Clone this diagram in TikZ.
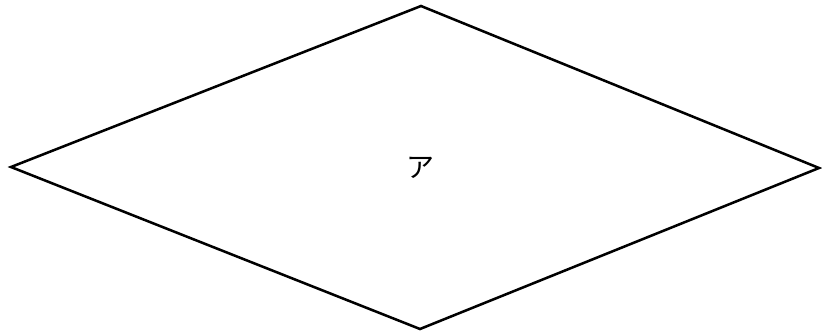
\documentclass[tikz,border=0pt]{standalone}
\usepackage{fontspec}
\newfontfamily\cjk{Noto Sans CJK JP}
\tikzset{
  outline/.style={draw=black,line width=1.9pt,line join=miter},
  kana/.style={font=\cjk\fontsize{21}{24}\selectfont,inner sep=0pt}
}
\begin{document}
\begin{tikzpicture}[x=0.75pt,y=-0.75pt]
  \useasboundingbox (0,0) rectangle (822,333);
  % corners of the rhombus
  \coordinate (west) at (11,167);
  \coordinate (north) at (421,6);
  \coordinate (east) at (819,168);
  \coordinate (south) at (420,329);
  \draw[outline] (west) -- (north) -- (east) -- (south) -- cycle;
  \node[kana] (label) at (420,168) {ア};
\end{tikzpicture}
\end{document}
